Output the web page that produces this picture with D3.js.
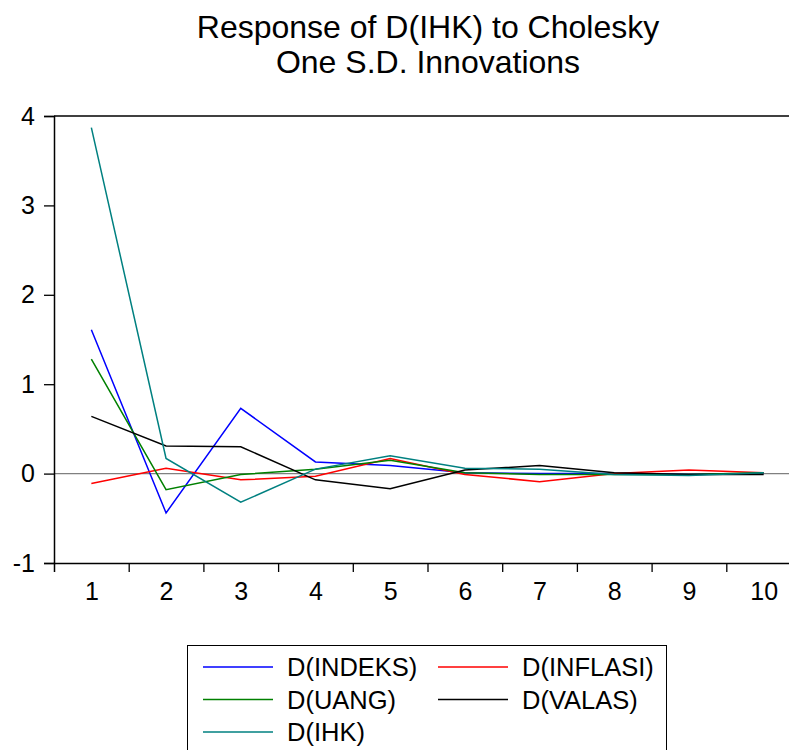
<!DOCTYPE html>
<html>
<head>
<meta charset="utf-8">
<script src="https://cdn.jsdelivr.net/npm/d3@7"></script>
<style>
  body { margin: 0; background: #fff; }
  text { font-family: "Liberation Sans", Arial, sans-serif; fill: #000; }
</style>
</head>
<body>
<svg width="789" height="750"></svg>
<script>
var periods = [1, 2, 3, 4, 5, 6, 7, 8, 9, 10];
var indeks  = [1.61, -0.44, 0.73, 0.13, 0.09, 0.01, 0.00, 0.00, -0.01, 0.00];
var inflasi = [-0.11, 0.06, -0.07, -0.03, 0.17, -0.01, -0.09, 0.00, 0.04, 0.01];
var uang    = [1.28, -0.18, -0.01, 0.05, 0.15, 0.01, -0.01, -0.01, -0.01, 0.01];
var valas   = [0.64, 0.31, 0.30, -0.07, -0.17, 0.04, 0.09, 0.01, -0.01, -0.01];
var ihk     = [3.87, 0.17, -0.32, 0.05, 0.20, 0.06, 0.05, -0.01, -0.02, 0.01];
var yTicks = [-1, 0, 1, 2, 3, 4];

var series = [
  { name: "D(INDEKS)", values: indeks, color: "#0000ff" },
  { name: "D(INFLASI)", values: inflasi, color: "#ff0000" },
  { name: "D(UANG)", values: uang, color: "#008000" },
  { name: "D(VALAS)", values: valas, color: "#000000" },
  { name: "D(IHK)", values: ihk, color: "#008080" }
];

function main() {
  var svg = d3.select("svg");
  var pLeft = 54, pRight = 801, pTop = 116, pBottom = 563;

  var x = d3.scaleLinear().domain([0.5, 10.5]).range([pLeft, pRight]);
  var y = d3.scaleLinear().domain([-1, 4]).range([pBottom, pTop]);

  // title
  svg.append("text").attr("x", 428).attr("y", 38).attr("text-anchor", "middle")
    .style("font-size", "32px").text("Response of D(IHK) to Cholesky");
  svg.append("text").attr("x", 428).attr("y", 73).attr("text-anchor", "middle")
    .style("font-size", "32px").text("One S.D. Innovations");

  // zero line
  svg.append("line")
    .attr("x1", pLeft).attr("x2", pRight)
    .attr("y1", y(0)).attr("y2", y(0))
    .attr("stroke", "#808080").attr("stroke-width", 1.2);

  // y axis
  var yAxis = svg.append("g").attr("transform", "translate(" + pLeft + ",0)")
    .call(d3.axisLeft(y).tickValues(yTicks).tickSize(10).tickPadding(9)
      .tickFormat(function(d) { return String(d); }));

  // x axis: boundary ticks + centered labels
  var xAxis = svg.append("g").attr("transform", "translate(0," + pBottom + ")")
    .call(d3.axisBottom(x).tickValues(d3.range(1.5, 10, 1)).tickSize(9).tickFormat(""));
  var xLab = svg.append("g").attr("transform", "translate(0," + pBottom + ")")
    .call(d3.axisBottom(x).tickValues(periods).tickSize(0).tickPadding(19)
      .tickFormat(function(d) { return String(d); }));
  xLab.select(".domain").remove();

  [yAxis, xAxis, xLab].forEach(function(g) {
    g.selectAll("text").style("font-size", "25px").style("font-family", "Liberation Sans, Arial, sans-serif").attr("fill", "#000");
    g.selectAll("line").attr("stroke", "#000").attr("stroke-width", 1.3);
    g.select(".domain").attr("stroke", "#000").attr("stroke-width", 1.5);
  });

  // top border
  svg.append("line").attr("x1", pLeft).attr("x2", pRight).attr("y1", pTop).attr("y2", pTop)
    .attr("stroke", "#000").attr("stroke-width", 1.5);

  // lines
  var line = d3.line()
    .x(function(d, i) { return x(periods[i]); })
    .y(function(d) { return y(d); });

  svg.append("g").selectAll("path")
    .data(series)
    .enter().append("path")
    .attr("d", function(d) { return line(d.values); })
    .attr("fill", "none")
    .attr("stroke", function(d) { return d.color; })
    .attr("stroke-width", 1.5);

  // legend
  var legend = svg.append("g");
  legend.append("rect").attr("x", 187.5).attr("y", 645.5).attr("width", 479).attr("height", 120)
    .attr("fill", "#fff").attr("stroke", "#000").attr("stroke-width", 1);

  var legendCols = [203, 438];
  var legendRows = [667, 699.5, 732];
  var item = legend.selectAll("g.item")
    .data(series)
    .enter().append("g")
    .attr("class", "item")
    .attr("transform", function(d, i) {
      return "translate(" + legendCols[i % 2] + "," + legendRows[Math.floor(i / 2)] + ")";
    });
  item.append("line").attr("x1", 0).attr("x2", 70).attr("y1", 0).attr("y2", 0)
    .attr("stroke", function(d) { return d.color; }).attr("stroke-width", 1.5);
  item.append("text").attr("x", 84).attr("y", 9).style("font-size", "25.5px")
    .text(function(d) { return d.name; });
}

main();
</script>
</body>
</html>
